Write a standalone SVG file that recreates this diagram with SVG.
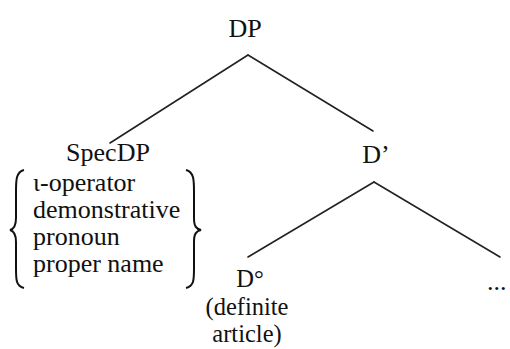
<svg xmlns="http://www.w3.org/2000/svg" width="510" height="349" viewBox="0 0 510 349">
  <style>
    text { font-family: "Liberation Serif", "Times New Roman", serif; font-size: 26px; fill: #111; }
    .c { text-anchor: middle; }
    .gloss { font-size: 24.5px; }
    .edge { stroke: #222; stroke-width: 1.6; fill: none; stroke-linecap: round; }
    .brace { stroke: #111; stroke-width: 2; fill: none; }
  </style>
  <rect width="510" height="349" fill="#fff"/>

  <g id="connectors">
    <line class="edge" x1="248" y1="55" x2="110" y2="143"/>
    <line class="edge" x1="248" y1="55" x2="373" y2="131"/>
    <line class="edge" x1="374" y1="182" x2="248" y2="257"/>
    <line class="edge" x1="374" y1="182" x2="500" y2="257"/>
  </g>

  <g id="node-dp">
    <text class="c" x="245" y="37">DP</text>
  </g>

  <g id="node-specdp">
    <text class="c" x="108" y="161">SpecDP</text>
    <path class="brace" d="M24,170 C16,172 16,180 16,192 L16,218 C16,226 14,229 10,230 C14,231 16,234 16,242 L16,268 C16,280 16,286 24,288"/>
    <text x="33" y="191">ι-operator</text>
    <text x="33" y="218">demonstrative</text>
    <text x="33" y="245">pronoun</text>
    <text x="33" y="272">proper name</text>
    <path class="brace" d="M186,170 C194,172 194,180 194,192 L194,218 C194,226 196,229 201,230 C196,231 194,234 194,242 L194,268 C194,280 194,286 186,288"/>
  </g>

  <g id="node-dbar">
    <text class="c" x="376" y="163">D’</text>
  </g>

  <g id="node-dhead">
    <!-- head label with its gloss set as a three-line block -->
    <text class="c gloss"><tspan x="250" y="287">D°</tspan><tspan x="247" y="314.5">(definite</tspan><tspan x="247" y="342">article)</tspan></text>
  </g>

  <g id="node-rest">
    <text x="487" y="290">...</text>
  </g>
</svg>
